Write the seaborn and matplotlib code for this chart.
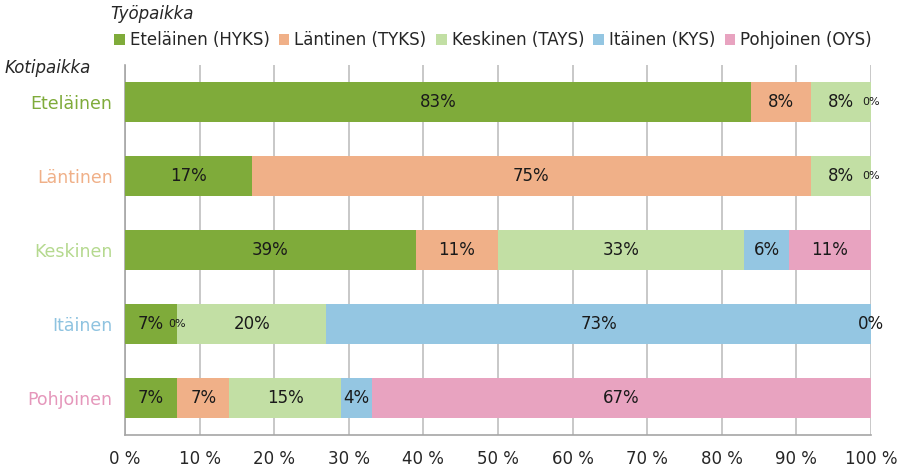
import numpy as np
import pandas as pd
import seaborn as sns
import matplotlib.pyplot as plt
from matplotlib.patches import Patch

sns.set_style("white")
plt.rcParams["font.family"] = ["DejaVu Sans"]

# Kotipaikka (rows) and Työpaikka (stacked segments), percent
kotipaikka = ["Eteläinen", "Läntinen", "Keskinen", "Itäinen", "Pohjoinen"]
tyopaikka = ["Eteläinen (HYKS)", "Läntinen (TYKS)", "Keskinen (TAYS)",
             "Itäinen (KYS)", "Pohjoinen (OYS)"]
hyks = [83.9, 17.0, 39.0, 7.0, 7.0]
tyks = [8.0, 74.9, 11.0, 0.0, 7.0]
tays = [8.1, 8.1, 33.0, 20.0, 15.0]
kys = [0.0, 0.0, 6.0, 73.0, 4.1]
oys = [0.0, 0.0, 11.0, 0.0, 66.9]
# data labels as printed in the chart ("" = no label, "s:" = small font)
lab_hyks = ["83%", "17%", "39%", "7%", "7%"]
lab_tyks = ["8%", "75%", "11%", "s:0%", "7%"]
lab_tays = ["8%", "8%", "33%", "20%", "15%"]
lab_kys = ["s:0%", "s:0%", "6%", "73%", "4%"]
lab_oys = ["", "", "11%", "0%", "67%"]

colors = ["#7fab3a", "#f0b088", "#c2dfa4", "#94c6e2", "#e8a3c0"]
label_colors = ["#7fab3a", "#f0b088", "#b5d98f", "#8ec3e0", "#e597bb"]

series = [hyks, tyks, tays, kys, oys]
labels = [lab_hyks, lab_tyks, lab_tays, lab_kys, lab_oys]
vals = np.array(series)
cum = np.cumsum(vals, axis=0)

fig = plt.figure(figsize=(9, 4.72), dpi=100)
ax = fig.add_axes([0.1389, 0.0784, 0.8289, 0.7839])

# stacked bars: draw cumulative totals from the back to the front
for i in range(len(series) - 1, -1, -1):
    df = pd.DataFrame({"kotipaikka": kotipaikka, "cum": cum[i]})
    sns.barplot(data=df, x="cum", y="kotipaikka", orient="h", color=colors[i],
                width=0.55, saturation=1, linewidth=0, ax=ax, zorder=3)

for i in range(len(series)):
    for j in range(len(kotipaikka)):
        t = labels[i][j]
        if not t:
            continue
        size = 12
        if t.startswith("s:"):
            t = t[2:]
            size = 8
        xc = cum[i][j] - vals[i][j] / 2
        ax.text(xc, j, t, ha="center", va="center", fontsize=size,
                color="#1a1a1a", zorder=5)

ax.set_xlim(0, 100)
ax.set_ylim(4.5, -0.5)
ax.set_xticks(np.arange(0, 101, 10))
ax.set_xticklabels([f"{v} %" for v in range(0, 101, 10)], fontsize=12)
ax.set_xlabel("")
ax.set_ylabel("")
ax.set_yticks(range(len(kotipaikka)))
ax.set_yticklabels(kotipaikka, fontsize=12.5)
for tl, c in zip(ax.get_yticklabels(), label_colors):
    tl.set_color(c)
ax.tick_params(axis="y", length=0, pad=9)
ax.tick_params(axis="x", length=5, color="#a6a6a6", width=1.2, pad=6)
ax.grid(axis="x", color="#bfbfbf", linewidth=1.2, zorder=0)
ax.set_axisbelow(True)
for s in ["top", "right"]:
    ax.spines[s].set_visible(False)
for s in ["left", "bottom"]:
    ax.spines[s].set_color("#a6a6a6")
    ax.spines[s].set_linewidth(1.2)

handles = [Patch(facecolor=c, edgecolor="none") for c in colors]
fig.legend(handles, tyopaikka, loc="center left", bbox_to_anchor=(0.119, 0.915),
           ncol=5, frameon=False, fontsize=12, handlelength=0.65, handleheight=0.65,
           handletextpad=0.3, columnspacing=0.55, borderaxespad=0)
fig.text(0.122, 0.97, "Työpaikka", fontsize=12, style="italic", va="center")
fig.text(0.005, 0.856, "Kotipaikka", fontsize=12, style="italic", va="center")

fig.savefig("out.png", dpi=100)
